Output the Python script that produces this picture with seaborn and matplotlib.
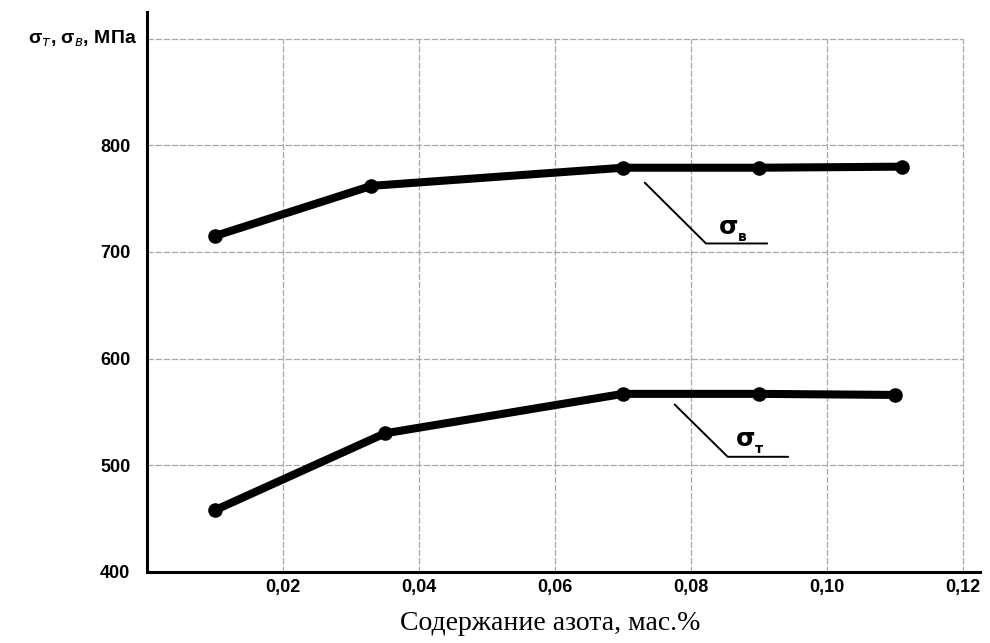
import matplotlib
matplotlib.use("Agg")
import matplotlib.pyplot as plt
import seaborn as sns
import pandas as pd

# data
x_b = [0.010, 0.033, 0.070, 0.090, 0.111]
sigma_b = [715, 762, 779, 779, 780]
x_t = [0.010, 0.035, 0.070, 0.090, 0.110]
sigma_t = [458, 530, 567, 567, 566]
x_ticks = [0.02, 0.04, 0.06, 0.08, 0.10, 0.12]
x_tick_labels = ["0,02", "0,04", "0,06", "0,08", "0,10", "0,12"]
y_ticks = [400, 500, 600, 700, 800, 900]
y_tick_labels = ["400", "500", "600", "700", "800", ""]
x_label = "Содержание азота, мас.%"
y_label = "σ$_{т}$, σ$_{в}$, МПа"

sns.set_theme(style="white")
plt.rcParams['font.family'] = ['Liberation Sans Narrow', 'Liberation Sans', 'DejaVu Sans']
plt.rcParams['text.color'] = 'black'
plt.rcParams['axes.labelcolor'] = 'black'
plt.rcParams['xtick.color'] = 'black'
plt.rcParams['ytick.color'] = 'black'

fig = plt.figure(figsize=(9.9, 6.43), dpi=100)
ax = fig.add_axes([147/990, 71/643, (980-147)/990, (572-12)/643])

df_b = pd.DataFrame({"x": x_b, "y": sigma_b})
df_t = pd.DataFrame({"x": x_t, "y": sigma_t})
sns.lineplot(data=df_b, x="x", y="y", ax=ax, color="black", linewidth=5.8,
             marker="o", markersize=10.5, markeredgewidth=0, zorder=5)
sns.lineplot(data=df_t, x="x", y="y", ax=ax, color="black", linewidth=5.8,
             marker="o", markersize=10.5, markeredgewidth=0, zorder=5)

ax.set_xlim(0, 0.1225)
ax.set_ylim(400, 925)

# grid bounded to the tick range
ax.vlines(x_ticks, 400, 900, colors="#a8a8a8", linewidth=0.9, linestyles=(0, (5, 1.5)), zorder=1)
ax.hlines(y_ticks[1:], 0, 0.12, colors="#a8a8a8", linewidth=0.9, linestyles=(0, (5, 1.5)), zorder=1)

ax.set_xticks(x_ticks)
ax.set_xticklabels(x_tick_labels, fontweight="bold", fontsize=13, color="black")
ax.set_yticks(y_ticks[:-1])
ax.set_yticklabels(y_tick_labels[:-1], fontweight="bold", fontsize=13, color="black")
ax.tick_params(axis="both", length=0)
ax.tick_params(axis="y", pad=12)
ax.tick_params(axis="x", pad=5)

ax.set_xlabel(x_label, family=["Liberation Serif", "DejaVu Serif"], fontsize=20, color="black")
ax.xaxis.set_label_coords(0.484, -0.07)
ax.set_ylabel("")
ax.text(-0.0015, 900, y_label, ha="right", va="center", fontsize=14, fontweight="bold",
        family=["Liberation Sans", "DejaVu Sans"], color="black")

for s in ["top", "right"]:
    ax.spines[s].set_visible(False)
for s in ["left", "bottom"]:
    ax.spines[s].set_color("black")
    ax.spines[s].set_linewidth(2.2)

# annotations (leader lines)
ax.plot([0.0732, 0.0822, 0.0912], [765, 708, 708], color="black", linewidth=1.4, zorder=4)
ax.text(0.0855, 723, "σ", fontsize=18, ha="center", va="center", fontweight="bold",
        family=["DejaVu Sans"], color="black")
ax.text(0.0876, 714, "в", fontsize=10, ha="center", va="center", fontweight="bold",
        family=["DejaVu Sans"], color="black")
ax.plot([0.0776, 0.0854, 0.0943], [557, 508, 508], color="black", linewidth=1.4, zorder=4)
ax.text(0.088, 525, "σ", fontsize=18, ha="center", va="center", fontweight="bold",
        family=["DejaVu Sans"], color="black")
ax.text(0.0900, 515, "т", fontsize=10, ha="center", va="center", fontweight="bold",
        family=["DejaVu Sans"], color="black")

fig.savefig("out.png", dpi=100)
